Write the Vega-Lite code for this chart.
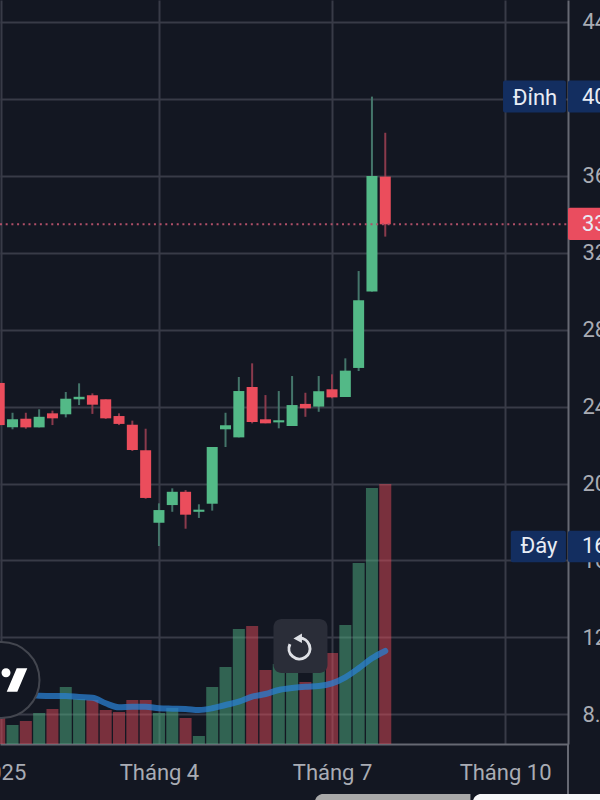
{
"$schema":"https://vega.github.io/schema/vega-lite/v6.json",
"width":568,"height":744,"autosize":"none",
"padding":{"left":0,"top":0,"right":32,"bottom":56},
"background":"#131722",
"view":{"stroke":null},
"config":{"font":"Roboto"},
"datasets":{
"weekly":[
{"date":"2025-01-06","dir":"down","open":25.23,"high":25.23,"low":23.0,"close":23.04,"vol":29,"ma":50},
{"date":"2025-01-13","dir":"up","open":22.92,"high":23.68,"low":22.82,"close":23.34,"vol":19,"ma":49},
{"date":"2025-01-20","dir":"down","open":23.37,"high":23.68,"low":22.85,"close":22.92,"vol":23,"ma":49},
{"date":"2025-01-27","dir":"up","open":22.92,"high":23.86,"low":22.92,"close":23.47,"vol":31,"ma":48.3},
{"date":"2025-02-03","dir":"down","open":23.65,"high":23.79,"low":23.04,"close":23.39,"vol":35,"ma":48},
{"date":"2025-02-10","dir":"up","open":23.6,"high":24.76,"low":23.44,"close":24.41,"vol":57,"ma":48},
{"date":"2025-02-17","dir":"up","open":24.38,"high":25.21,"low":24.08,"close":24.51,"vol":45,"ma":47},
{"date":"2025-02-24","dir":"down","open":24.59,"high":24.69,"low":23.62,"close":24.1,"vol":44,"ma":46.3},
{"date":"2025-03-03","dir":"down","open":24.38,"high":24.38,"low":23.36,"close":23.39,"vol":34,"ma":40.7},
{"date":"2025-03-10","dir":"down","open":23.51,"high":23.65,"low":23.04,"close":23.1,"vol":32,"ma":36.7},
{"date":"2025-03-17","dir":"down","open":23.06,"high":23.27,"low":21.69,"close":21.74,"vol":44,"ma":37.3},
{"date":"2025-03-24","dir":"down","open":21.73,"high":22.85,"low":19.21,"close":19.25,"vol":44,"ma":37.3},
{"date":"2025-03-31","dir":"up","open":17.96,"high":18.97,"low":16.75,"close":18.62,"vol":31,"ma":35.7},
{"date":"2025-04-07","dir":"up","open":18.88,"high":19.75,"low":18.53,"close":19.57,"vol":36,"ma":35.3},
{"date":"2025-04-14","dir":"down","open":19.57,"high":19.66,"low":17.65,"close":18.38,"vol":26,"ma":35},
{"date":"2025-04-21","dir":"up","open":18.53,"high":18.92,"low":18.21,"close":18.64,"vol":8,"ma":34},
{"date":"2025-04-28","dir":"up","open":18.95,"high":21.9,"low":18.59,"close":21.9,"vol":57,"ma":35.7},
{"date":"2025-05-05","dir":"up","open":22.82,"high":23.68,"low":21.9,"close":23.03,"vol":77,"ma":39},
{"date":"2025-05-12","dir":"up","open":22.4,"high":25.54,"low":22.4,"close":24.81,"vol":115,"ma":42.3},
{"date":"2025-05-19","dir":"down","open":25.02,"high":26.25,"low":23.13,"close":23.2,"vol":118,"ma":47.3},
{"date":"2025-05-26","dir":"down","open":23.34,"high":24.6,"low":23.13,"close":23.13,"vol":74,"ma":50},
{"date":"2025-06-02","dir":"up","open":23.18,"high":24.81,"low":22.87,"close":23.29,"vol":80,"ma":54},
{"date":"2025-06-09","dir":"up","open":22.99,"high":25.59,"low":22.99,"close":24.08,"vol":78,"ma":56},
{"date":"2025-06-16","dir":"down","open":24.14,"high":24.72,"low":23.47,"close":23.91,"vol":62,"ma":57.3},
{"date":"2025-06-23","dir":"up","open":24.0,"high":25.59,"low":23.73,"close":24.8,"vol":75,"ma":58},
{"date":"2025-06-30","dir":"down","open":24.9,"high":25.68,"low":24.43,"close":24.48,"vol":91,"ma":60.7},
{"date":"2025-07-07","dir":"up","open":24.5,"high":26.51,"low":24.5,"close":25.87,"vol":119,"ma":66.7},
{"date":"2025-07-14","dir":"up","open":26.01,"high":31.05,"low":25.85,"close":29.53,"vol":181,"ma":75.7},
{"date":"2025-07-21","dir":"up","open":29.98,"high":40.12,"low":29.98,"close":35.99,"vol":256,"ma":85.7},
{"date":"2025-07-28","dir":"down","open":35.96,"high":38.24,"low":32.84,"close":33.48,"vol":260,"ma":93}
]},
"encoding":{"x":{"field":"date","type":"temporal","title":null,
 "scale":{"type":"utc","padding":0,"domain":["2025-01-06T10:00:00Z","2025-11-01T02:00:00Z"]},
 "axis":{"values":["2025-01-07","2025-03-31","2025-06-30","2025-09-29"],
  "labelExpr":"utcmonth(datum.value)==2?'Tháng 4':utcmonth(datum.value)==5?'Tháng 7':utcmonth(datum.value)==8?'Tháng 10':'2025'",
  "grid":true,"gridColor":"#383b47","gridWidth":2,"ticks":false,"domainColor":"#666973","domainWidth":2,
  "labelFont":"Roboto","labelFontSize":22,"labelColor":"#a9acb4","labelPadding":18,"labelOverlap":false,"labelBound":false,"labelFlush":false,"labelAngle":0}}},
"layer":[
{"data":{"name":"weekly"},"mark":{"type":"bar","size":12,"opacity":0.47},
 "encoding":{"y":{"field":"vol","type":"quantitative","title":null,"scale":{"domain":[0,744]},"axis":null},
  "color":{"field":"dir","type":"nominal","legend":null,"scale":{"domain":["up","down"],"range":["#53b987","#eb4d5c"]}}}},
{"data":{"name":"weekly"},"mark":{"type":"line","color":"#2a7fd0","strokeWidth":6,"opacity":0.75,"interpolate":"monotone","strokeCap":"round"},
 "encoding":{"y":{"field":"ma","type":"quantitative","title":null,"scale":{"domain":[0,744]},"axis":null}}},
{"data":{"name":"weekly"},"mark":{"type":"rule","strokeWidth":2},
 "encoding":{"y":{"field":"high","type":"quantitative","title":null,"scale":{"domain":[6.455,45.144]},
   "axis":{"orient":"right","values":[8,12,16,20,24,28,32,36,40,44],"format":".2f","grid":true,"gridColor":"#383b47","gridWidth":2,"ticks":false,"domainColor":"#666973","domainWidth":2,
   "labelFont":"Roboto","labelFontSize":22,"labelColor":"#a9acb4","labelPadding":14,"labelOverlap":false,"labelBound":false,"labelFlush":false,"labelAlign":"left"}},
  "y2":{"field":"low"},
  "color":{"field":"dir","type":"nominal","legend":null,"scale":{"domain":["up","down"],"range":["#44756a","#8a3a4c"]}}}},
{"data":{"name":"weekly"},"mark":{"type":"bar","size":11},
 "encoding":{"y":{"field":"open","type":"quantitative","title":null,"scale":{"domain":[6.455,45.144]},"axis":null},
  "y2":{"field":"close"},
  "color":{"field":"dir","type":"nominal","legend":null,"scale":{"domain":["up","down"],"range":["#53b987","#eb4d5c"]}}}},
{"data":{"values":[{"date":"2025-01-06T10:00:00Z","date2":"2025-11-01T02:00:00Z","price":33.48}]},
 "mark":{"type":"rule","color":"#b04f68","strokeWidth":2,"strokeDash":[2,3.7]},
 "encoding":{"y":{"field":"price","type":"quantitative","title":null,"scale":{"domain":[6.455,45.144]},"axis":null},"x2":{"field":"date2"}}},
{"data":{"values":[{"date":"2025-11-01T02:00:00Z","top":6.45,"bottom":3.86}]},
 "mark":{"type":"rule","color":"#666973","strokeWidth":2},
 "encoding":{"y":{"field":"top","type":"quantitative","title":null,"scale":{"domain":[6.455,45.144]},"axis":null},"y2":{"field":"bottom"}}},
{"data":{"values":[{"date":"2025-01-07T05:00:00Z","price":9.78}]},
 "mark":{"type":"point","shape":"circle","size":5776,"filled":true,"fill":"#131722","stroke":"#43464f","strokeWidth":2,"opacity":1},
 "encoding":{"y":{"field":"price","type":"quantitative","title":null,"scale":{"domain":[6.455,45.144]},"axis":null}}},
{"data":{"values":[{"date":"2025-01-07T05:00:00Z","price":9.78}]},
 "mark":{"type":"point","shape":"M15.2 -11.7 L25.8 -11.7 L15.8 11.7 L5.2 11.7 Z M0 -7.3 A4.5 4.5 0 1 1 9 -7.3 A4.5 4.5 0 1 1 0 -7.3 Z","size":4,"filled":true,"fill":"#ffffff","opacity":1},
 "encoding":{"y":{"field":"price","type":"quantitative","title":null,"scale":{"domain":[6.455,45.144]},"axis":null}}},
{"data":{"values":[{"date":"2025-06-13T10:00:00Z","price":11.55}]},
 "mark":{"type":"point","shape":"M-19 -27 H19 A8 8 0 0 1 27 -19 V19 A8 8 0 0 1 19 27 H-19 A8 8 0 0 1 -27 19 V-19 A8 8 0 0 1 -19 -27 Z","size":4,"filled":true,"fill":"#2a2d38","opacity":1},
 "encoding":{"y":{"field":"price","type":"quantitative","title":null,"scale":{"domain":[6.455,45.144]},"axis":null}}},
{"data":{"values":[{"date":"2025-06-12T21:00:00Z","price":11.42}]},
 "mark":{"type":"point","shape":"M-0.5 -10.5 A10.5 10.5 0 1 1 -9.5 -4.5","size":4,"filled":false,"stroke":"#dfe1e6","strokeWidth":3,"opacity":1},
 "encoding":{"y":{"field":"price","type":"quantitative","title":null,"scale":{"domain":[6.455,45.144]},"axis":null}}},
{"data":{"values":[{"date":"2025-06-12T21:00:00Z","price":11.42}]},
 "mark":{"type":"point","shape":"M2.5 -15 L2.5 -5.5 L-6 -10 Z","size":4,"filled":true,"fill":"#dfe1e6","opacity":1},
 "encoding":{"y":{"field":"price","type":"quantitative","title":null,"scale":{"domain":[6.455,45.144]},"axis":null}}},
{"data":{"values":[
 {"date":"2025-09-27T22:00:00Z","date2":"2025-10-31","top":40.96,"bottom":39.3,"box":"peak"},
 {"date":"2025-11-01T02:00:00Z","date2":"2025-11-20","top":40.96,"bottom":39.3,"box":"peak"},
 {"date":"2025-10-02","date2":"2025-10-31","top":17.55,"bottom":15.9,"box":"peak"},
 {"date":"2025-11-01T02:00:00Z","date2":"2025-11-20","top":17.55,"bottom":15.9,"box":"peak"},
 {"date":"2025-11-01T02:00:00Z","date2":"2025-11-20","top":34.34,"bottom":32.66,"box":"last"}]},
 "mark":{"type":"rect","cornerRadius":2},
 "encoding":{"y":{"field":"top","type":"quantitative","title":null,"scale":{"domain":[6.455,45.144]},"axis":null},"y2":{"field":"bottom"},"x2":{"field":"date2"},
  "color":{"field":"box","type":"nominal","legend":null,"scale":{"domain":["peak","last"],"range":["#132e60","#ea4d5f"]}}}},
{"data":{"values":[
 {"date":"2025-06-21","date2":"2025-09-10T19:00:00Z","top":3.855,"bottom":3.0,"strip":"a"},
 {"date":"2025-09-12T02:00:00Z","date2":"2025-11-20","top":3.855,"bottom":3.0,"strip":"b"}]},
 "mark":{"type":"rect","cornerRadiusTopLeft":14},
 "encoding":{"y":{"field":"top","type":"quantitative","title":null,"scale":{"domain":[6.455,45.144]},"axis":null},"y2":{"field":"bottom"},"x2":{"field":"date2"},
  "color":{"field":"strip","type":"nominal","legend":null,"scale":{"domain":["a","b"],"range":["#a9a9a9","#f7f7f9"]}}}},
{"data":{"values":[
 {"date":"2025-10-14T17:00:00Z","price":40.05,"label":"Đỉnh"},
 {"date":"2025-10-16T19:00:00Z","price":16.75,"label":"Đáy"}]},
 "mark":{"type":"text","font":"Roboto","fontSize":22,"color":"#e8ecf5","align":"center","baseline":"middle"},
 "encoding":{"y":{"field":"price","type":"quantitative","title":null,"scale":{"domain":[6.455,45.144]},"axis":null},"text":{"field":"label"}}},
{"data":{"values":[
 {"date":"2025-11-08T10:00:00Z","price":40.12,"label":"40.12"},
 {"date":"2025-11-08T10:00:00Z","price":16.75,"label":"16.75"},
 {"date":"2025-11-08T10:00:00Z","price":33.48,"label":"33.48"}]},
 "mark":{"type":"text","font":"Roboto","fontSize":22,"color":"#e8ecf5","align":"left","baseline":"middle"},
 "encoding":{"y":{"field":"price","type":"quantitative","title":null,"scale":{"domain":[6.455,45.144]},"axis":null},"text":{"field":"label"}}}
],
"resolve":{"scale":{"y":"independent","color":"independent"}}
}
